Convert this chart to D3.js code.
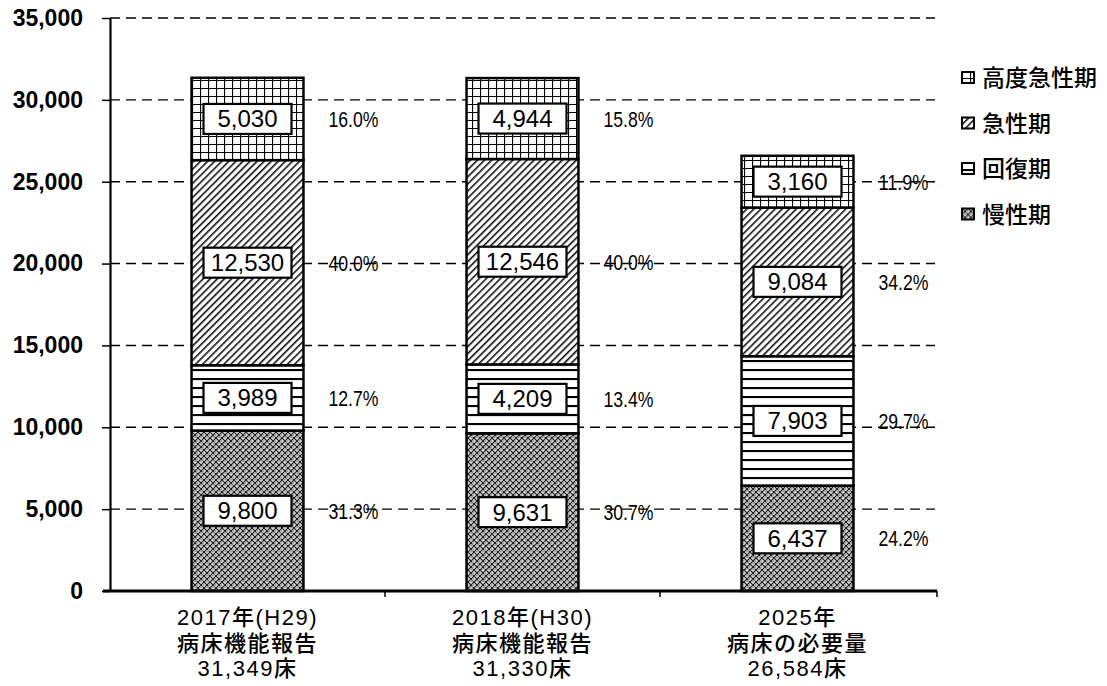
<!DOCTYPE html>
<html>
<head>
<meta charset="utf-8">
<script src="https://cdn.jsdelivr.net/npm/d3@7"></script>
<style>
  body { margin: 0; background: #fff; }
  svg { display: block; }
</style>
</head>
<body>
<svg id="chart" width="1107" height="686"></svg>
<script>
// categories (x axis, 2 lines + total computed)
const catYear = ['2017年(H29)', '2018年(H30)', '2025年'];
const catName = ['病床機能報告', '病床機能報告', '病床の必要量'];

// series, bottom to top
const seriesNames = ['慢性期', '回復期', '急性期', '高度急性期'];
const chronic   = [9800, 9631, 6437];
const recovery  = [3989, 4209, 7903];
const acute     = [12530, 12546, 9084];
const highAcute = [5030, 4944, 3160];

const yTicks = [0, 5000, 10000, 15000, 20000, 25000, 30000, 35000];

const svg = d3.select('#chart');
const fmt = d3.format(',');

// patterns for each function
const defs = svg.append('defs');
const pGrid = defs.append('pattern').attr('id', 'p3').attr('patternUnits', 'userSpaceOnUse')
  .attr('width', 8).attr('height', 8);
pGrid.append('rect').attr('width', 8).attr('height', 8).attr('fill', '#fff');
pGrid.append('path').attr('d', 'M0,0H8M0,0V8').attr('stroke', '#000').attr('stroke-width', 2.2);

const pDiag = defs.append('pattern').attr('id', 'p2').attr('patternUnits', 'userSpaceOnUse')
  .attr('width', 5).attr('height', 5).attr('patternTransform', 'rotate(45)');
pDiag.append('rect').attr('width', 5).attr('height', 5).attr('fill', '#fff');
pDiag.append('line').attr('x1', 0.8).attr('x2', 0.8).attr('y1', 0).attr('y2', 5)
  .attr('stroke', '#000').attr('stroke-width', 1.5);

const pHor = defs.append('pattern').attr('id', 'p1').attr('patternUnits', 'userSpaceOnUse')
  .attr('width', 9).attr('height', 9);
pHor.append('rect').attr('width', 9).attr('height', 9).attr('fill', '#fff');
pHor.append('line').attr('x1', 0).attr('x2', 9).attr('y1', 1).attr('y2', 1)
  .attr('stroke', '#000').attr('stroke-width', 2.2);

const pDot = defs.append('pattern').attr('id', 'p0').attr('patternUnits', 'userSpaceOnUse')
  .attr('width', 6).attr('height', 6);
pDot.append('rect').attr('width', 6).attr('height', 6).attr('fill', '#a4a4a4');
pDot.append('path').attr('d', 'M0,0L6,6M6,0L0,6').attr('stroke', '#222').attr('stroke-width', 1);
pDot.append('rect').attr('x', 2.5).attr('y', 0).attr('width', 1).attr('height', 1).attr('fill', '#fff');
pDot.append('rect').attr('x', 0).attr('y', 2.5).attr('width', 1).attr('height', 1).attr('fill', '#fff');
pDot.append('rect').attr('x', 4.5).attr('y', 4).attr('width', 1).attr('height', 1).attr('fill', '#eee');

const fills = ['url(#p0)', 'url(#p1)', 'url(#p2)', 'url(#p3)'];

// scales
const y = d3.scaleLinear().domain([0, 35000]).range([591, 18]);
const x = d3.scaleBand().domain(d3.range(3)).range([110, 935])
  .paddingInner(0.593).paddingOuter(0.2965);

// grid lines
svg.append('g')
  .selectAll('line')
  .data(yTicks.slice(1))
  .enter().append('line')
    .attr('x1', 110).attr('x2', 935)
    .attr('y1', d => y(d)).attr('y2', d => y(d))
    .attr('stroke', '#000').attr('stroke-width', 1.4)
    .attr('stroke-dasharray', '10,6');

// stacked data
const rows = d3.range(3).map(i => ({
  i: i, 0: chronic[i], 1: recovery[i], 2: acute[i], 3: highAcute[i]
}));
const stack = d3.stack().keys([0, 1, 2, 3])(rows);
const totals = rows.map(r => r[0] + r[1] + r[2] + r[3]);

const layers = svg.append('g').selectAll('g')
  .data(stack)
  .enter().append('g')
    .attr('fill', (d, k) => fills[k]);

layers.selectAll('rect')
  .data(d => d)
  .enter().append('rect')
    .attr('x', d => x(d.data.i))
    .attr('width', x.bandwidth())
    .attr('y', d => y(d[1]))
    .attr('height', d => y(d[0]) - y(d[1]))
    .attr('stroke', '#000')
    .attr('stroke-width', 2.5);

// y axis
const yAxis = svg.append('g')
  .attr('transform', 'translate(110,0)')
  .call(d3.axisLeft(y).tickValues(yTicks).tickFormat(fmt).tickSize(8).tickPadding(19).tickSizeOuter(0));
yAxis.select('.domain').attr('stroke-width', 2.2);
yAxis.selectAll('.tick line').attr('stroke-width', 1.5);
yAxis.selectAll('text')
  .style('font-family', '"Liberation Sans", Arial, sans-serif')
  .style('font-size', '23px')
  .style('font-weight', 'bold')
  .attr('fill', '#000');

// x axis baseline + boundary ticks
svg.append('line')
  .attr('x1', 103).attr('x2', 937).attr('y1', y(0)).attr('y2', y(0))
  .attr('stroke', '#000').attr('stroke-width', 2.8);
const bounds = [1, 2].map(i => x(i) - x.step() * x.paddingInner() / 2).concat([937]);
svg.append('g').selectAll('line')
  .data(bounds)
  .enter().append('line')
    .attr('x1', d => d).attr('x2', d => d)
    .attr('y1', y(0)).attr('y2', y(0) + 6)
    .attr('stroke', '#000').attr('stroke-width', 1.5);

// category labels
const catG = svg.append('g')
  .style('font-family', '"Liberation Sans", "Noto Sans CJK JP", sans-serif')
  .style('font-size', '22px')
  .style('font-weight', '500')
  .style('letter-spacing', '1.5px')
  .attr('text-anchor', 'middle');
d3.range(3).forEach(i => {
  const cx = x(i) + x.bandwidth() / 2;
  [catYear[i], catName[i], fmt(totals[i]) + '床'].forEach((t, j) => {
    catG.append('text')
      .attr('x', cx).attr('y', 625 + j * 25.5)
      .text(t);
  });
});

// value boxes and percentages
const labelG = svg.append('g');
stack.forEach((layer, k) => {
  layer.forEach(d => {
    const i = d.data.i;
    const cx = x(i) + x.bandwidth() / 2;
    const cy = y((d[0] + d[1]) / 2);
    const v = d[1] - d[0];
    labelG.append('rect')
      .attr('x', cx - 44).attr('y', cy - 15)
      .attr('width', 88).attr('height', 30)
      .attr('fill', '#fff').attr('stroke', '#000').attr('stroke-width', 2.2);
    labelG.append('text')
      .attr('x', cx).attr('y', cy + 8.5)
      .attr('text-anchor', 'middle')
      .style('font-family', '"Liberation Sans", Arial, sans-serif')
      .style('font-size', '24px')
      .text(fmt(v));
    const pct = labelG.append('text')
      .attr('x', x(i) + x.bandwidth() + 50).attr('y', cy + 8)
      .attr('text-anchor', 'middle')
      .style('font-family', '"Liberation Sans", sans-serif')
      .style('font-size', '22px')
      .text(d3.format('.1f')(v / totals[i] * 100) + '%');
    pct.attr('textLength', 50).attr('lengthAdjust', 'spacingAndGlyphs');
  });
});

// legend, top item first
const legend = svg.append('g').attr('transform', 'translate(962,78)');
const legItems = legend.selectAll('g')
  .data([3, 2, 1, 0])
  .enter().append('g')
    .attr('transform', (d, n) => 'translate(0,' + (n * 45.5) + ')');
legItems.append('rect')
  .attr('x', 0).attr('y', -6).attr('width', 12).attr('height', 11)
  .attr('fill', d => fills[d]).attr('stroke', '#000').attr('stroke-width', 2);
legItems.append('text')
  .attr('x', 20).attr('y', 8)
  .style('font-family', '"Noto Sans CJK JP", sans-serif')
  .style('font-size', '23px')
  .style('font-weight', '500')
  .text(d => seriesNames[d]);
</script>
</body>
</html>
